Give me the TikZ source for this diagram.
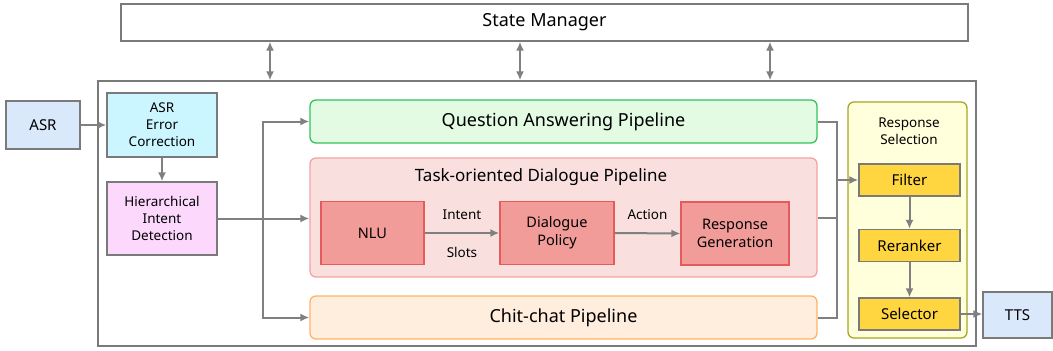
\documentclass[tikz,border=0pt]{standalone}
\usepackage{fontspec}
\setmainfont{Noto Sans}
\usetikzlibrary{arrows.meta}
\definecolor{linegray}{HTML}{808080}
\definecolor{boxgray}{HTML}{7A7A7A}
\definecolor{ioblue}{HTML}{DAE8FC}
\definecolor{aeccyan}{HTML}{CCF6FF}
\definecolor{hidpink}{HTML}{FCD8FC}
\definecolor{qafill}{HTML}{E2FBE2}
\definecolor{qaline}{HTML}{33C35A}
\definecolor{todfill}{HTML}{F9E0DF}
\definecolor{todline}{HTML}{F2A3A0}
\definecolor{modfill}{HTML}{F19C99}
\definecolor{modline}{HTML}{E55B5B}
\definecolor{ccfill}{HTML}{FFEEDD}
\definecolor{ccline}{HTML}{FFB366}
\definecolor{rsfill}{HTML}{FFFFDC}
\definecolor{rsline}{HTML}{A8A820}
\definecolor{selfill}{HTML}{FFD640}

\begin{document}
\begin{tikzpicture}[x=1pt, y=-1pt, >={Latex[length=9pt,width=8pt]},
  box/.style={draw=boxgray, line width=1.3pt, align=center, inner sep=0pt},
  pipe/.style={box, rounded corners=6pt},
  module/.style={box, draw=modline, fill=modfill, minimum height=63pt, font=\fontsize{14.5}{18}\selectfont},
  selbox/.style={box, fill=selfill, minimum width=101pt, minimum height=32pt, font=\fontsize{15}{18}\selectfont},
  small/.style={font=\fontsize{13.5}{17}\selectfont},
  big/.style={font=\fontsize{18}{21}\selectfont},
  conn/.style={draw=linegray, line width=2pt}]
\useasboundingbox (0,0) rectangle (1053,351);
% top and frame
\node[box, fill=white, minimum width=847pt, minimum height=37pt, big] (sm) at (544.5, 22.5) {State Manager};
\node[box, minimum width=878pt, minimum height=265pt] (frame) at (537, 213.5) {};
% input side
\node[box, fill=ioblue, minimum width=74pt, minimum height=48pt, font=\fontsize{15}{18}\selectfont] (asr) at (43, 125) {ASR};
\node[box, fill=aeccyan, minimum width=110pt, minimum height=64pt, small] (aec) at (162, 125) {ASR\\Error\\Correction};
\node[box, fill=hidpink, minimum width=110pt, minimum height=73pt, small] (hid) at (162, 218.5) {Hierarchical\\Intent\\Detection};
% pipelines
\node[pipe, draw=qaline, fill=qafill, minimum width=507pt, minimum height=43pt, big] (qa) at (563.5, 121.5) {Question Answering Pipeline};
\node[pipe, draw=todline, fill=todfill, minimum width=507pt, minimum height=119pt] (tod) at (563.5, 217.5) {};
\node[font=\fontsize{17}{20}\selectfont] (todtitle) at (541, 177) {Task-oriented Dialogue Pipeline};
\node[pipe, draw=ccline, fill=ccfill, minimum width=507pt, minimum height=43pt, big] (cc) at (563.5, 317.5) {Chit-chat Pipeline};
\node[module, minimum width=103pt] (nlu) at (372.5, 233) {NLU};
\node[module, minimum width=114pt] (dp) at (557, 233) {Dialogue\\Policy};
\node[module, minimum width=108pt] (rg) at (735, 233.5) {Response\\Generation};
% response selection
\node[pipe, draw=rsline, fill=rsfill, minimum width=119pt, minimum height=236pt] (rs) at (907.5, 220) {};
\node[small, align=center] (rstitle) at (909, 131) {Response\\Selection};
\node[selbox] (filter) at (909.5, 180) {Filter};
\node[selbox] (rerank) at (909.5, 245.5) {Reranker};
\node[selbox] (selector) at (909.5, 314) {Selector};
\node[box, fill=ioblue, minimum width=69pt, minimum height=46pt, font=\fontsize{15}{18}\selectfont] (tts) at (1017.5, 315) {TTS};
% state manager links
\coordinate (smA) at (270, 0);
\coordinate (smB) at (520, 0);
\coordinate (smC) at (770, 0);
\draw[conn, <->] (sm.south -| smA) -- (frame.north -| smA);
\draw[conn, <->] (sm.south -| smB) -- (frame.north -| smB);
\draw[conn, <->] (sm.south -| smC) -- (frame.north -| smC);
% flow
\coordinate (branch) at (263, 218);
\coordinate (merge) at (837, 180);
\draw[conn, ->] (asr.east) -- (aec.west);
\draw[conn, ->] (aec.south) -- (hid.north);
\draw[conn, ->] (hid.east) -- (hid.east -| tod.west);
\draw[conn, ->] (branch) |- (qa.west);
\draw[conn, ->] (branch) |- (cc.west);
\draw[conn, ->] (nlu.east) -- node[above=9pt, small] (intent) {Intent} node[below=10pt, small] (slots) {Slots} (dp.west);
\draw[conn, ->] (dp.east) -- node[above=9pt, small] (action) {Action} (rg.west);
\draw[conn] (qa.east) -| (merge);
\draw[conn] (cc.east) -| (merge);
\draw[conn] (tod.east) -- (tod.east -| merge);
\draw[conn, ->] (merge) -- (filter.west);
\draw[conn, ->] (filter.south) -- (rerank.north);
\draw[conn, ->] (rerank.south) -- (selector.north);
\draw[conn, ->] (selector.east) -- (selector.east -| tts.west);
\end{tikzpicture}
\end{document}
